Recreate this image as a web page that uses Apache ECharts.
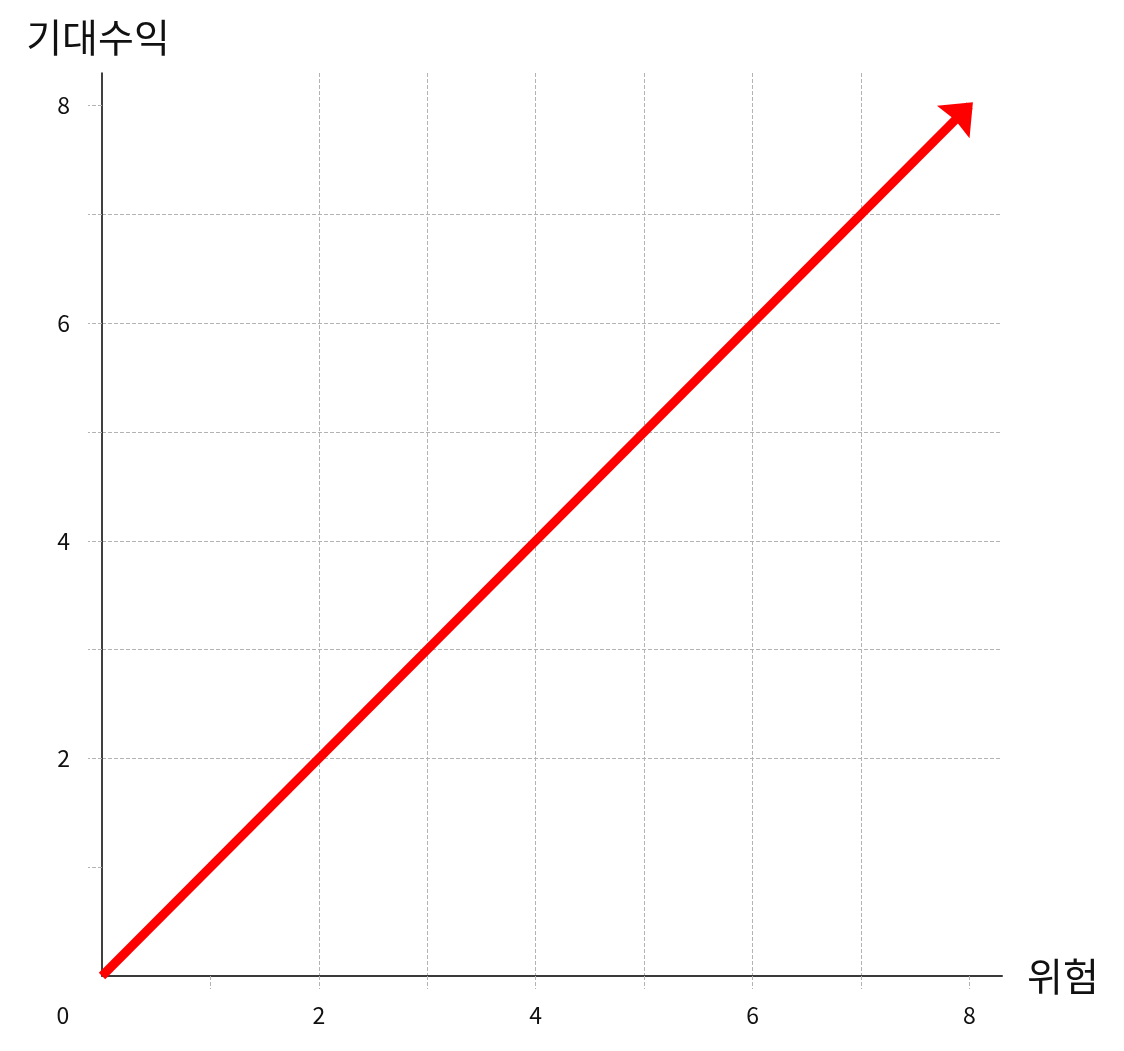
<!DOCTYPE html>
<html>
<head>
<meta charset="utf-8">
<script src="https://cdn.jsdelivr.net/npm/echarts@6/dist/echarts.min.js"></script>
<style>
  html, body { margin: 0; padding: 0; background: #fff; }
  #main { width: 1124px; height: 1051px; }
</style>
</head>
<body>
<div id="main"></div>
<script>
// 데이터: 화살표 시작점/끝점, 눈금, 라벨
const arrowFrom = [0, 0];
const arrowTo = [8, 8];
const tickValues = [1, 2, 3, 4, 5, 6, 7, 8];
const xLabelValues = [0, 2, 4, 6, 8];
const yLabelValues = [2, 4, 6, 8];
const axisMax = 8.3;
const xName = '위험';
const yName = '기대수익';

const FONT = '"Noto Sans CJK KR", "Noto Sans", sans-serif';
const gridDash = { color: '#b3b3b3', width: 1, type: [4, 2] };

// 화살촉: 앞쪽에 보이지 않는 점을 두어 끝점이 촉 가까이 오도록 함
const ARROW_HEAD = 'path://M5,0L10,10L5,9L0,10Z M5,-6.5L5.01,-6.5Z';

let myChart = echarts.init(document.getElementById('main'));

option = {
    backgroundColor: '#fff',
    animation: false,
    grid: { left: 102, right: 122, top: 73, bottom: 75 },
    xAxis: {
        type: 'value',
        min: 0,
        max: axisMax,
        interval: 1,
        name: xName,
        nameLocation: 'end',
        nameGap: 25,
        nameTextStyle: { fontSize: 39, color: '#111', fontFamily: FONT, verticalAlign: 'middle' },
        axisLine: { show: true, lineStyle: { color: '#3a3a3a', width: 2 } },
        axisTick: { show: true, length: 13, customValues: tickValues, lineStyle: gridDash },
        axisLabel: {
            customValues: xLabelValues,
            margin: 28,
            fontSize: 23,
            color: '#111',
            fontFamily: FONT,
            formatter: function (v) { return v === 0 ? '{o|0}' : String(v); },
            rich: { o: { fontSize: 23, color: '#111', fontFamily: FONT, padding: [0, 78, 0, 0] } }
        },
        splitLine: { show: true, showMinLine: false, showMaxLine: false, lineStyle: gridDash }
    },
    yAxis: {
        type: 'value',
        min: 0,
        max: axisMax,
        interval: 1,
        name: yName,
        nameLocation: 'end',
        nameGap: 16,
        nameTextStyle: { fontSize: 39, color: '#111', fontFamily: FONT, align: 'center', padding: [0, 8, 0, 0] },
        axisLine: { show: true, lineStyle: { color: '#000', width: 1.5 } },
        axisTick: { show: true, length: 14, customValues: tickValues, lineStyle: gridDash },
        axisLabel: {
            customValues: yLabelValues,
            margin: 32,
            fontSize: 23,
            color: '#111',
            fontFamily: FONT
        },
        splitLine: { show: true, showMinLine: false, showMaxLine: false, lineStyle: gridDash }
    },
    series: [
        {
            type: 'lines',
            coordinateSystem: 'cartesian2d',
            symbol: ['none', ARROW_HEAD],
            symbolSize: [30, 46],
            lineStyle: { color: '#ff0000', width: 9, opacity: 1, cap: 'butt' },
            itemStyle: { color: '#ff0000' },
            data: [{ coords: [arrowFrom, arrowTo] }],
            z: 5
        }
    ]
};

myChart.setOption(option, true);
</script>
</body>
</html>
